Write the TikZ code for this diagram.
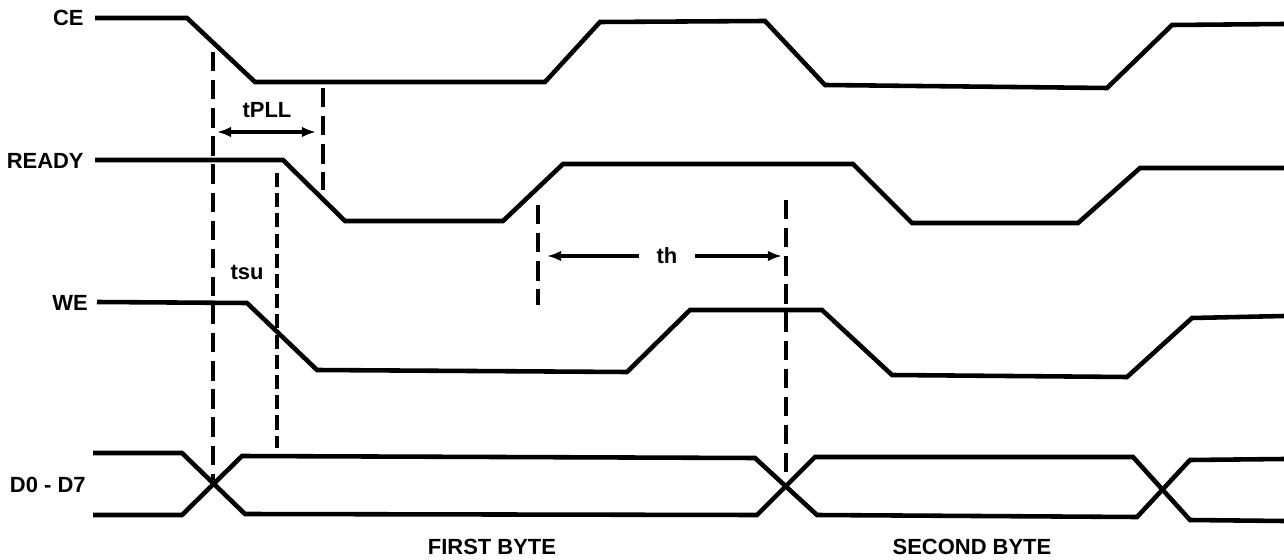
\documentclass[tikz,border=0pt]{standalone}
\usepackage{fontspec}
\setmainfont{Liberation Sans}
\usetikzlibrary{arrows.meta}
\tikzset{
	sig/.style={line width=2.6pt},
	guide/.style={line width=2.5pt, dash pattern=on 11pt off 5pt},
	guidethin/.style={line width=1.8pt, dash pattern=on 8pt off 3.5pt},
	arr/.style={line width=2pt},
	lbl/.style={font=\bfseries\fontsize{12.5}{15}\selectfont, inner sep=0pt}
}
\begin{document}
\begin{tikzpicture}[>={Latex[length=8pt,width=6pt]}, x=0.02cm, y=-0.02cm]
	\useasboundingbox (0,0) rectangle (1284,560);
	\node[lbl, anchor=east] (ce) at (84,18) {CE};
	\node[lbl, anchor=east] (ready) at (84,161) {READY};
	\node[lbl, anchor=east] (we) at (88,303) {WE};
	\node[lbl, anchor=east] (data) at (86,485) {D0 - D7};
	\draw[sig] (95,18) -- (187,18) -- (255,82) -- (545,82) -- (600,22) -- (765,21) -- (825,85) -- (1107,88) -- (1172,25) -- (1284,24);
	\draw[sig] (95,160) -- (283,160) -- (345,221) -- (503,221) -- (563,164) -- (853,164) -- (912,223) -- (1078,223) -- (1140,168) -- (1284,168);
	\draw[sig] (97,302) -- (247,303) -- (317,370) -- (627,372) -- (690,310) -- (822,310) -- (892,375) -- (1127,377) -- (1192,318) -- (1284,316);
	\draw[sig] (93,453) -- (182,453) -- (245,514) -- (757,515) -- (815,457) -- (1133,457) -- (1190,520) -- (1284,521);
	\draw[sig] (93,515) -- (182,515) -- (242,456) -- (755,458) -- (817,515) -- (1137,517) -- (1190,460) -- (1284,459);
	\coordinate (g1a) at (213,52);
	\coordinate (g1b) at (213,480);
	\coordinate (g2a) at (323,88);
	\coordinate (g2b) at (323,190);
	\coordinate (g3a) at (277,173);
	\coordinate (g3b) at (277,448);
	\coordinate (g4a) at (538,205);
	\coordinate (g4b) at (538,305);
	\coordinate (g5a) at (786,200);
	\coordinate (g5b) at (786,472);
	\draw[guide] (g1a) -- (g1b);
	\draw[guide] (g2a) -- (g2b);
	\draw[guidethin] (g3a) -- (g3b);
	\draw[guide] (g4a) -- (g4b);
	\draw[guide] (g5a) -- (g5b);
	\coordinate (tpllL) at (217,132);
	\coordinate (tpllR) at (316,132);
	\draw[arr, <->] (tpllL) -- (tpllR);
	\node[lbl] (tpll) at (267,110) {tPLL};
	\node[lbl] (tsu) at (247,272) {tsu};
	\node[lbl, inner xsep=10pt] (th) at (667,256) {th};
	\coordinate (thL) at (547,256);
	\coordinate (thR) at (782,256);
	\draw[arr, ->] (th) -- (thL);
	\draw[arr, ->] (th) -- (thR);
	\node[lbl] (first) at (492,547) {FIRST BYTE};
	\node[lbl] (second) at (972,547) {SECOND BYTE};
\end{tikzpicture}
\end{document}
